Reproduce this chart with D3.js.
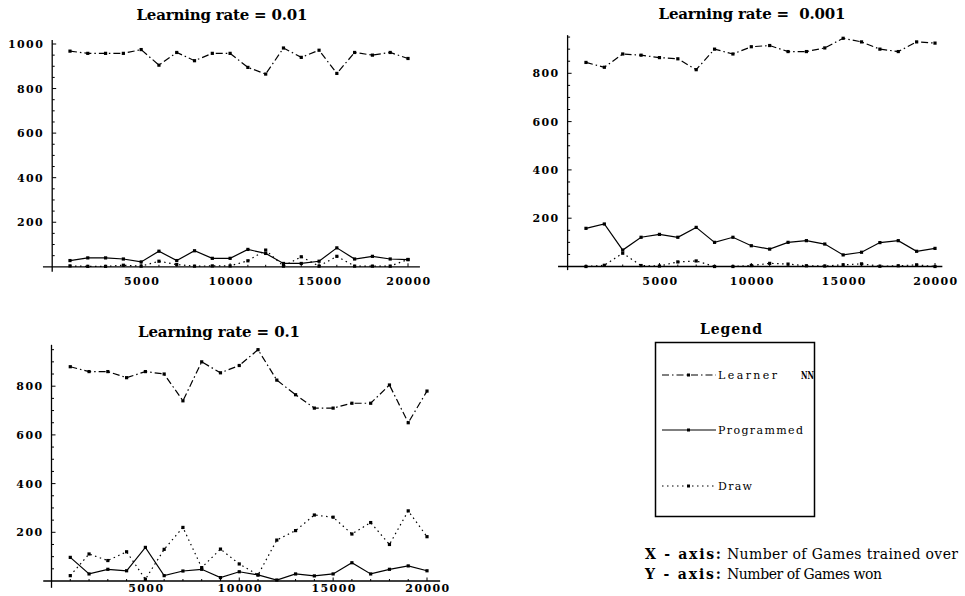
<!DOCTYPE html>
<html>
<head>
<meta charset="utf-8">
<script src="https://cdn.jsdelivr.net/npm/d3@7"></script>
<style>
  html, body { margin: 0; padding: 0; background: #fff; }
  svg { display: block; }
  svg text { font-family: "DejaVu Serif", "Liberation Serif", serif; }
</style>
</head>
<body>
<svg id="chart" width="965" height="596"></svg>
<script>
// Games trained over (x values shared by every panel)
const games = [1000, 2000, 3000, 4000, 5000, 6000, 7000, 8000, 9000, 10000,
               11000, 12000, 13000, 14000, 15000, 16000, 17000, 18000, 19000, 20000];

// Learning rate = 0.01
const learnerRate001    = [968, 958, 958, 958, 975, 905, 962, 925, 958, 958, 895, 865, 982, 940, 972, 868, 962, 950, 962, 935];
const programmedRate001 = [28, 40, 40, 35, 22, 70, 28, 72, 38, 38, 78, 60, 15, 15, 25, 85, 35, 47, 35, 32];
const drawRate001       = [4, 2, 2, 7, 3, 25, 10, 3, 4, 4, 27, 75, 3, 45, 3, 47, 3, 3, 3, 33];

// Learning rate = 0.001
const learnerRate0001    = [845, 825, 880, 875, 865, 860, 815, 900, 880, 910, 915, 890, 890, 905, 945, 930, 900, 890, 930, 925];
const programmedRate0001 = [158, 176, 68, 121, 133, 121, 162, 100, 121, 86, 72, 100, 107, 93, 48, 59, 99, 107, 63, 75];
const drawRate0001       = [0, 5, 55, 4, 2, 19, 23, 0, 0, 4, 13, 10, 3, 2, 7, 11, 1, 3, 7, 0];

// Learning rate = 0.1
const learnerRate01    = [880, 860, 860, 835, 860, 850, 740, 900, 855, 885, 950, 825, 765, 710, 710, 730, 730, 805, 650, 780];
const programmedRate01 = [97, 29, 48, 42, 138, 22, 41, 48, 14, 38, 25, 4, 29, 21, 29, 75, 29, 48, 62, 42];
const drawRate01       = [22, 111, 84, 120, 7, 130, 220, 55, 131, 70, 25, 168, 207, 271, 262, 193, 240, 150, 288, 182];

// Tick labels
const xTickLabels = [5000, 10000, 15000, 20000];
const yTickLabelsRate001 = [200, 400, 600, 800, 1000];
const yTickLabelsOther = [200, 400, 600, 800];

// Legend entries
const seriesNames = ["Learner", "Programmed", "Draw"];

// Line styles per series
const seriesStyle = [
  { dash: "7,3,1.5,3" },
  { dash: null },
  { dash: "1.5,3.5" }
];

// Panel geometry (pixel placement of each small plot)
const panels = [
  { title: "Learning rate = 0.01", titleX: 222, titleY: 20, titleW: 171,
    series: [learnerRate001, programmedRate001, drawRate001],
    px0: 52.2, px20k: 408, py0: 266.8, py1000: 44,
    xExt: [-520, 20670], yExt: [-22, 1018], yLabels: yTickLabelsRate001, xLabelY: 285 },
  { title: "Learning rate =\u00a0\u00a00.001", titleX: 752, titleY: 19, titleW: 187,
    series: [learnerRate0001, programmedRate0001, drawRate0001],
    px0: 567.6, px20k: 935, py0: 266.5, py1000: 25,
    xExt: [-520, 20400], yExt: [-15, 958], yLabels: yTickLabelsOther, xLabelY: 285 },
  { title: "Learning rate = 0.1", titleX: 219, titleY: 337, titleW: 162,
    series: [learnerRate01, programmedRate01, drawRate01],
    px0: 51.5, px20k: 427, py0: 581, py1000: 337.5,
    xExt: [-440, 20700], yExt: [-28, 970], yLabels: yTickLabelsOther, xLabelY: 592 }
];

const svg = d3.select("#chart");

function tickText(sel) {
  sel.attr("font-weight", "bold").attr("font-size", 11).attr("letter-spacing", "1.4px");
}

panels.forEach(p => {
  const x = d3.scaleLinear().domain([0, 20000]).range([p.px0, p.px20k]);
  const y = d3.scaleLinear().domain([0, 1000]).range([p.py0, p.py1000]);
  const g = svg.append("g");

  // title
  g.append("text")
    .attr("x", p.titleX).attr("y", p.titleY)
    .attr("text-anchor", "middle")
    .attr("font-weight", "bold").attr("font-size", 15)
    .attr("textLength", p.titleW).attr("lengthAdjust", "spacing")
    .text(p.title);

  // axis lines
  g.append("line")
    .attr("x1", x(p.xExt[0])).attr("x2", x(p.xExt[1]))
    .attr("y1", y(0)).attr("y2", y(0))
    .attr("stroke", "#000").attr("stroke-width", 1.3);
  g.append("line")
    .attr("x1", x(0)).attr("x2", x(0))
    .attr("y1", y(p.yExt[0])).attr("y2", y(p.yExt[1]))
    .attr("stroke", "#000").attr("stroke-width", 1.3);

  // y ticks (major every 200, minor every 50)
  const yMinor = d3.range(50, p.yExt[1], 50);
  g.selectAll(".ytick").data(yMinor).join("line")
    .attr("x1", x(0)).attr("x2", d => x(0) + (d % 200 === 0 ? 4 : 2.5))
    .attr("y1", d => y(d)).attr("y2", d => y(d))
    .attr("stroke", "#000").attr("stroke-width", 1);

  // x ticks (major every 5000, minor every 1000)
  const xMinor = d3.range(1000, p.xExt[1], 1000);
  g.selectAll(".xtick").data(xMinor).join("line")
    .attr("x1", d => x(d)).attr("x2", d => x(d))
    .attr("y1", y(0)).attr("y2", d => y(0) - (d % 5000 === 0 ? 3.5 : 2))
    .attr("stroke", "#000").attr("stroke-width", 1);

  // y tick labels
  g.selectAll(".ylab").data(p.yLabels).join("text")
    .attr("x", x(0) - 8).attr("y", d => y(d) + 4)
    .attr("text-anchor", "end")
    .call(tickText)
    .text(d => d);

  // x tick labels
  g.selectAll(".xlab").data(xTickLabels).join("text")
    .attr("x", d => x(d) + 1).attr("y", p.xLabelY)
    .attr("text-anchor", "middle")
    .call(tickText)
    .text(d => d);

  // series
  const line = d3.line().x((d, i) => x(games[i])).y(d => y(d));
  p.series.forEach((vals, si) => {
    g.append("path")
      .datum(vals)
      .attr("d", line)
      .attr("fill", "none")
      .attr("stroke", "#000")
      .attr("stroke-width", 1.2)
      .attr("stroke-dasharray", seriesStyle[si].dash);
    g.selectAll(null).data(vals).join("rect")
      .attr("x", (d, i) => x(games[i]) - 1.6)
      .attr("y", d => y(d) - 1.6)
      .attr("width", 3.2).attr("height", 3.2)
      .attr("fill", "#000");
  });
});

// Legend
const lg = svg.append("g");
lg.append("text")
  .attr("x", 731).attr("y", 334)
  .attr("text-anchor", "middle")
  .attr("font-weight", "bold").attr("font-size", 14)
  .attr("textLength", 62).attr("lengthAdjust", "spacing")
  .text("Legend");
lg.append("rect")
  .attr("x", 655.5).attr("y", 342.5).attr("width", 159).attr("height", 174)
  .attr("fill", "none").attr("stroke", "#000").attr("stroke-width", 1.5);

const legendRowY = [375, 430, 486];
const legendTextW = [59, 85, 34];
seriesNames.forEach((name, i) => {
  const yy = legendRowY[i];
  lg.append("line")
    .attr("x1", 662).attr("x2", 716).attr("y1", yy).attr("y2", yy)
    .attr("stroke", "#000").attr("stroke-width", 1.2)
    .attr("stroke-dasharray", seriesStyle[i].dash);
  lg.append("rect")
    .attr("x", 687).attr("y", yy - 1.5).attr("width", 3).attr("height", 3)
    .attr("fill", "#000");
  const t = lg.append("text")
    .attr("y", yy + 4)
    .attr("font-size", 11);
  t.append("tspan")
    .attr("x", 718)
    .attr("textLength", legendTextW[i]).attr("lengthAdjust", "spacing")
    .text(name);
  if (i === 0) {
    t.append("tspan").attr("x", 801)
      .attr("font-size", 11).attr("font-weight", "bold")
      .attr("textLength", 13).attr("lengthAdjust", "spacingAndGlyphs")
      .text("NN");
  }
});

// Axis descriptions
const notes = [
  { key: "X - axis:", text: "Number of Games trained over", y: 559, w: 231 },
  { key: "Y - axis:", text: "Number of Games won", y: 579, w: 155 }
];
notes.forEach(n => {
  lg.append("text")
    .attr("x", 645).attr("y", n.y)
    .attr("font-weight", "bold").attr("font-size", 14)
    .attr("textLength", 76).attr("lengthAdjust", "spacing")
    .text(n.key);
  lg.append("text")
    .attr("x", 727).attr("y", n.y)
    .attr("font-size", 14)
    .attr("textLength", n.w).attr("lengthAdjust", "spacing")
    .text(n.text);
});
</script>
</body>
</html>
